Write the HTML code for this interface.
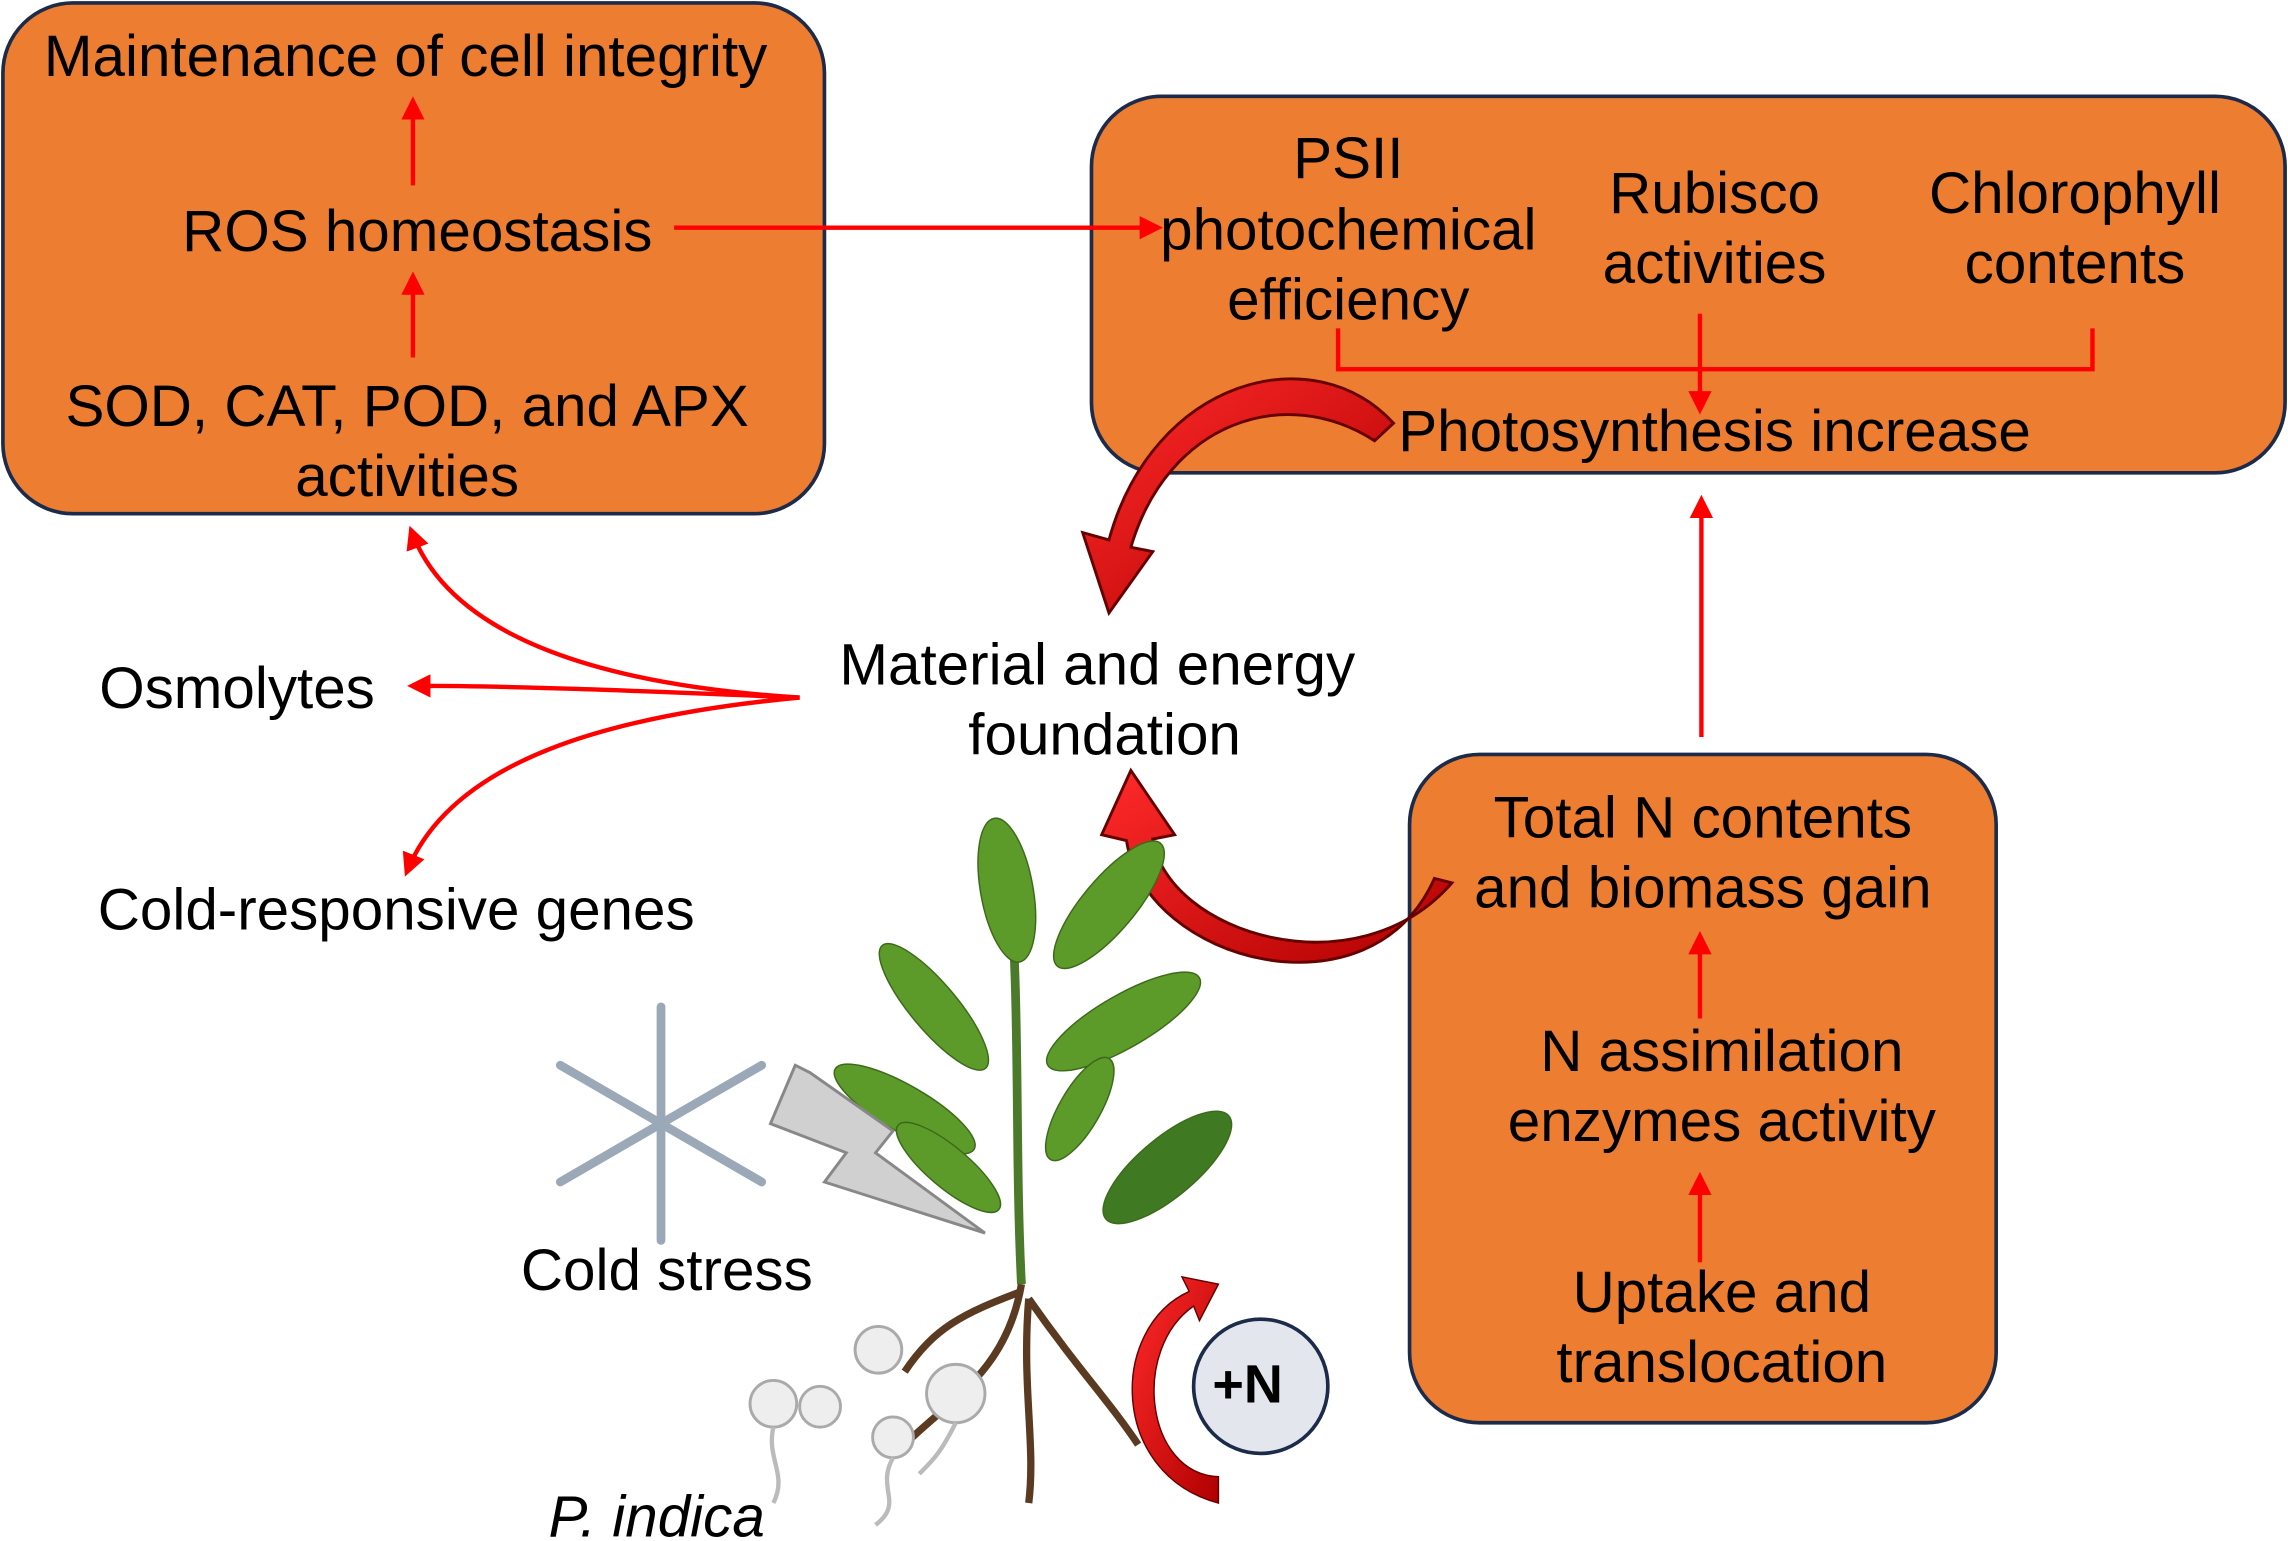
<!DOCTYPE html>
<html><head><meta charset="utf-8"><style>
html,body{margin:0;padding:0;background:#fff;}
svg{display:block;}
text{font-family:"Liberation Sans",Arial,sans-serif;font-size:40px;fill:#000;}
</style></head><body>
<svg width="2288" height="1541" viewBox="0 0 1568 1056" xmlns="http://www.w3.org/2000/svg">
<defs>
<marker id="ah2" markerWidth="16" markerHeight="16" refX="12" refY="8" orient="auto" markerUnits="userSpaceOnUse">
<path d="M0,0 L16,8 L0,16 z" fill="#f00"/></marker>
<linearGradient id="rg" x1="0" y1="0" x2="1" y2="1"><stop offset="0" stop-color="#ff2a2a"/><stop offset="1" stop-color="#b00000"/></linearGradient>
</defs>
<!-- Box 1 -->
<rect x="2" y="2" width="563" height="350" rx="48" fill="#ED7D31" stroke="#1c2b4a" stroke-width="2.5"/>
<text x="278" y="52" text-anchor="middle">Maintenance of cell integrity</text>
<line x1="283" y1="127" x2="283" y2="70" stroke="#f00" stroke-width="3" marker-end="url(#ah2)"/>
<text x="286" y="172" text-anchor="middle">ROS homeostasis</text>
<line x1="283" y1="245" x2="283" y2="190" stroke="#f00" stroke-width="3" marker-end="url(#ah2)"/>
<text x="279" y="292" text-anchor="middle">SOD, CAT, POD, and APX</text>
<text x="279" y="340" text-anchor="middle">activities</text>
<!-- Box 2 -->
<rect x="748" y="66" width="818" height="258" rx="48" fill="#ED7D31" stroke="#1c2b4a" stroke-width="2.5"/>
<line x1="462" y1="156" x2="793" y2="156" stroke="#f00" stroke-width="3" marker-end="url(#ah2)"/>
<text x="924" y="122" text-anchor="middle">PSII</text>
<text x="924" y="171" text-anchor="middle">photochemical</text>
<text x="924" y="219" text-anchor="middle">efficiency</text>
<text x="1175" y="146" text-anchor="middle">Rubisco</text>
<text x="1175" y="194" text-anchor="middle">activities</text>
<text x="1422" y="146" text-anchor="middle">Chlorophyll</text>
<text x="1422" y="194" text-anchor="middle">contents</text>
<polyline points="917,225 917,253 1434,253 1434,225" fill="none" stroke="#f00" stroke-width="3"/>
<line x1="1165" y1="215" x2="1165" y2="280" stroke="#f00" stroke-width="3" marker-end="url(#ah2)"/>
<text x="1175" y="309" text-anchor="middle">Photosynthesis increase</text>
<line x1="1166" y1="505" x2="1166" y2="343" stroke="#f00" stroke-width="3" marker-end="url(#ah2)"/>
<!-- Box 3 -->
<rect x="966" y="517" width="402" height="458" rx="48" fill="#ED7D31" stroke="#1c2b4a" stroke-width="2.5"/>
<text x="1167" y="574" text-anchor="middle">Total N contents</text>
<text x="1167" y="622" text-anchor="middle">and biomass gain</text>
<line x1="1165" y1="698" x2="1165" y2="642" stroke="#f00" stroke-width="3" marker-end="url(#ah2)"/>
<text x="1180" y="734" text-anchor="middle">N assimilation</text>
<text x="1180" y="782" text-anchor="middle">enzymes activity</text>
<line x1="1165" y1="865" x2="1165" y2="807" stroke="#f00" stroke-width="3" marker-end="url(#ah2)"/>
<text x="1180" y="899" text-anchor="middle">Uptake and</text>
<text x="1180" y="947" text-anchor="middle">translocation</text>
<!-- center -->
<text x="752" y="469" text-anchor="middle">Material and energy</text>
<text x="757" y="517" text-anchor="middle">foundation</text>
<path d="M548,478 C420,470 310,440 282,364" fill="none" stroke="#f00" stroke-width="3" marker-end="url(#ah2)"/>
<path d="M548,478 C450,474 360,470 283,470" fill="none" stroke="#f00" stroke-width="3" marker-end="url(#ah2)"/>
<path d="M548,478 C420,490 310,520 279,597" fill="none" stroke="#f00" stroke-width="3" marker-end="url(#ah2)"/>
<text x="68" y="485">Osmolytes</text>
<text x="67" y="637">Cold-responsive genes</text>
<!-- big curved arrows -->
<path d="M955,290 C900,230 790,260 760,370 L742,365 L760,420 L790,378 L775,375 C800,290 880,262 942,302 Z" fill="url(#rg)" stroke="#600" stroke-width="2"/>
<path d="M995,605 C930,680 800,640 790,575 L805,572 L775,528 L755,572 L772,576 C785,660 940,700 983,602 Z" fill="url(#rg)" stroke="#600" stroke-width="2"/>
<!-- plant -->
<g stroke="#5a3a20" stroke-width="5" fill="none">
<path d="M700,880 C690,940 650,960 620,990"/><path d="M705,890 C740,940 760,960 780,990"/>
<path d="M700,885 C660,900 640,910 620,940"/><path d="M705,890 C700,950 710,990 705,1030"/>
</g>
<path d="M700,880 C695,780 700,680 690,580" stroke="#4a7a2a" stroke-width="6" fill="none"/>
<g fill="#5c9a2a" stroke="#3d6a1a" stroke-width="1">
<ellipse cx="690" cy="610" rx="18" ry="50" transform="rotate(-10 690 610)"/>
<ellipse cx="760" cy="620" rx="18" ry="55" transform="rotate(40 760 620)"/>
<ellipse cx="640" cy="690" rx="16" ry="55" transform="rotate(-40 640 690)"/>
<ellipse cx="770" cy="700" rx="18" ry="60" transform="rotate(60 770 700)"/>
<ellipse cx="620" cy="760" rx="16" ry="55" transform="rotate(-60 620 760)"/>
<ellipse cx="800" cy="800" rx="20" ry="55" transform="rotate(50 800 800)" fill="#3f7a22"/>
<ellipse cx="650" cy="800" rx="14" ry="45" transform="rotate(-50 650 800)"/>
<ellipse cx="740" cy="760" rx="14" ry="40" transform="rotate(30 740 760)"/>
</g>
<!-- snowflake -->
<g stroke="#9aa8b8" stroke-width="6" stroke-linecap="round">
<line x1="453" y1="690" x2="453" y2="850"/>
<line x1="384" y1="730" x2="522" y2="810"/>
<line x1="384" y1="810" x2="522" y2="730"/>
</g>
<!-- lightning -->
<polygon points="545,730 528,770 580,790 565,810 675,845 600,790 612,775 555,735" fill="#d0d0d0" stroke="#888" stroke-width="2"/>
<text x="457" y="884" text-anchor="middle">Cold stress</text>
<!-- spores -->
<g fill="#eee" stroke="#aaa" stroke-width="2">
<circle cx="530" cy="962" r="16"/><circle cx="562" cy="964" r="14"/><circle cx="602" cy="925" r="16"/>
<circle cx="655" cy="955" r="20"/><circle cx="612" cy="985" r="14"/>
</g>
<g stroke="#bbb" stroke-width="3" fill="none"><path d="M530,978 C525,1000 540,1010 530,1030"/><path d="M612,999 C600,1020 620,1030 600,1045"/><path d="M655,975 C645,995 640,1000 630,1010"/></g>
<text x="450" y="1053" text-anchor="middle" font-style="italic">P. indica</text>
<!-- +N -->
<path d="M835,1030 C760,1010 760,910 815,885 L810,875 L835,880 L822,905 L818,895 C775,925 785,1010 835,1012 Z" fill="url(#rg)" stroke="#600" stroke-width="1"/>
<circle cx="864" cy="950" r="46" fill="#e4e6ee" stroke="#1c2b4a" stroke-width="2.5"/>
<text x="855" y="961" text-anchor="middle" font-weight="bold" style="font-size:37px">+N</text>
</svg>
</body></html>
